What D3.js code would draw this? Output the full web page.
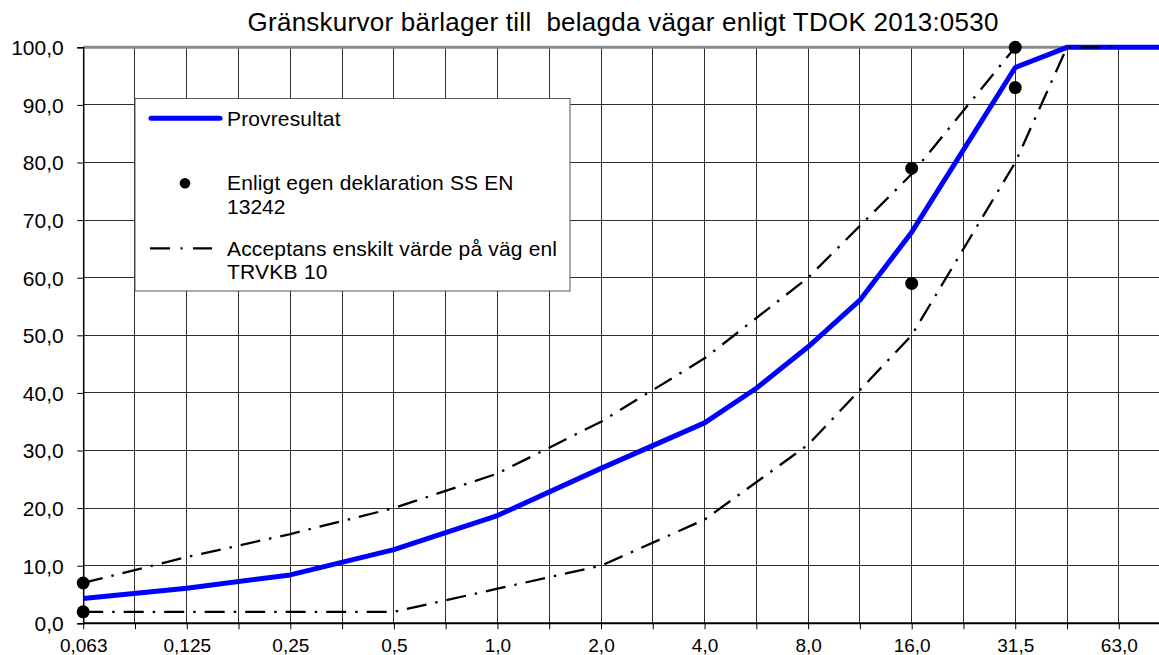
<!DOCTYPE html>
<html>
<head>
<meta charset="utf-8">
<script src="https://cdn.jsdelivr.net/npm/d3@7"></script>
<style>
  html, body { margin: 0; padding: 0; background: #fff; }
  svg { display: block; font-family: "Liberation Sans", Arial, sans-serif; }
</style>
</head>
<body>
<svg id="chart" width="1159" height="655"></svg>
<script>
// ---------- data ----------
const titleText = "Gränskurvor bärlager till  belagda vägar enligt TDOK 2013:0530";

// sieve sizes (mm), each one gridline step apart on the x axis
const sieveSizes = [0.063, 0.09, 0.125, 0.18, 0.25, 0.355, 0.5, 0.71, 1, 1.4, 2, 2.8, 4, 5.6, 8, 11.2, 16, 22.4, 31.5, 45, 63, 90];
const tickLabels = ["0,063", "0,125", "0,25", "0,5", "1,0", "2,0", "4,0", "8,0", "16,0", "31,5", "63,0"];
const yTicks = [0, 10, 20, 30, 40, 50, 60, 70, 80, 90, 100];

// Provresultat
const provSizes  = [0.063, 0.125, 0.25, 0.5, 1, 2, 4, 5.6, 8, 11.2, 16, 31.5, 45, 63, 90];
const provValues = [4.3, 6.1, 8.4, 12.8, 18.7, 26.9, 34.8, 40.8, 48.0, 56.1, 67.9, 96.5, 100, 100, 100];

// Acceptans enskilt värde (upper / lower limit)
const upperSizes  = [0.063, 0.125, 0.25, 0.5, 1, 2, 4, 8, 16, 31.5];
const upperValues = [7, 11.5, 15.5, 20, 26, 35, 46, 60, 78, 100];
const lowerSizes  = [0.063, 0.125, 0.25, 0.5, 1, 2, 4, 8, 16, 31.5, 45, 63];
const lowerValues = [2, 2, 2, 2, 6, 10, 18, 31, 50, 80, 100, 100];

// Enligt egen deklaration SS EN 13242
const declSizes  = [0.063, 0.063, 16, 16, 31.5, 31.5];
const declValues = [7, 2, 79, 59, 100, 93];

const legendLabels = [
  ["Provresultat"],
  ["Enligt egen deklaration SS EN", "13242"],
  ["Acceptans enskilt värde på väg enl", "TRVKB 10"]
];

// ---------- chart ----------
(function () {
const svg = d3.select("#chart");
const W = 1159, H = 655;
const pLeft = 83.2, pTop = 47.3, pBottom = 623.3, pRight = 1159;

const x = d3.scaleLinear().domain([0, 20]).range([pLeft, 1118.8]);
const y = d3.scaleLinear().domain([0, 100]).range([pBottom, pTop]);
const pos = s => x(sieveSizes.indexOf(s));

const locale = d3.formatLocale({decimal: ",", thousands: " ", grouping: [3], currency: ["", " kr"]});
const fmt = locale.format(".1f");

svg.append("rect").attr("width", W).attr("height", H).attr("fill", "#fff");

svg.append("defs").append("clipPath").attr("id", "plotclip")
  .append("rect").attr("x", pLeft).attr("y", pTop - 10).attr("width", pRight - pLeft).attr("height", pBottom - pTop + 20);

// grid
const grid = svg.append("g").attr("shape-rendering", "crispEdges").attr("stroke", "#2e2e2e").attr("stroke-width", 1);
grid.selectAll("line.h").data(yTicks).join("line").attr("class", "h")
  .attr("x1", pLeft).attr("x2", pRight).attr("y1", d => y(d)).attr("y2", d => y(d));
const vIdx = d3.range(0, sieveSizes.length).filter(i => x(i) <= pRight);
grid.selectAll("line.v").data(vIdx).join("line").attr("class", "v")
  .attr("x1", d => x(d)).attr("x2", d => x(d)).attr("y1", pTop).attr("y2", pBottom);

// top border
svg.append("line").attr("x1", pLeft).attr("x2", pRight).attr("y1", pTop).attr("y2", pTop)
  .attr("stroke", "#8c8c8c").attr("stroke-width", 3);

// axes
const yAxis = d3.axisLeft(y).tickValues(yTicks).tickSize(6).tickFormat(fmt);
const gy = svg.append("g").attr("transform", `translate(${pLeft},0)`).call(yAxis);
gy.select(".domain").attr("stroke", "#000").attr("stroke-width", 1.5);
gy.selectAll(".tick line").attr("stroke", "#000");
gy.selectAll(".tick text").attr("font-size", 21).attr("font-family", "Liberation Sans, Arial, sans-serif")
  .attr("fill", "#000").attr("x", -19.5).attr("dy", "0.35em");

const xAxis = d3.axisBottom(x).tickValues(vIdx).tickSize(6)
  .tickFormat(i => (i % 2 === 0 && tickLabels[i / 2]) ? tickLabels[i / 2] : "");
const gx = svg.append("g").attr("transform", `translate(0,${pBottom})`).call(xAxis);
gx.select(".domain").attr("stroke", "#000").attr("stroke-width", 2).attr("d", `M${pLeft},0H${pRight}`);
gx.selectAll(".tick line").attr("stroke", "#000");
gx.selectAll(".tick text").attr("font-size", 19).attr("font-family", "Liberation Sans, Arial, sans-serif")
  .attr("fill", "#000").attr("y", 28.5).attr("dy", 0);

// title
svg.append("text").attr("x", 247.5).attr("y", 31).attr("font-size", 26)
  .attr("textLength", 751).attr("lengthAdjust", "spacing")
  .style("white-space", "pre").attr("fill", "#000").text(titleText);

// lines
const plot = svg.append("g").attr("clip-path", "url(#plotclip)");
const line = d3.line().x(d => pos(d[0])).y(d => y(d[1]));

plot.append("path").datum(d3.zip(provSizes, provValues))
  .attr("d", line).attr("fill", "none").attr("stroke", "#0000ff").attr("stroke-width", 5)
  .attr("stroke-linejoin", "round");

const dash = "20,9,2.5,9";
[[upperSizes, upperValues], [lowerSizes, lowerValues]].forEach(([s, v]) => {
  plot.append("path").datum(d3.zip(s, v))
    .attr("d", line).attr("fill", "none").attr("stroke", "#000").attr("stroke-width", 2.3)
    .attr("stroke-dasharray", dash);
});

svg.append("g").selectAll("circle").data(d3.zip(declSizes, declValues)).join("circle")
  .attr("cx", d => pos(d[0])).attr("cy", d => y(d[1])).attr("r", 6.5).attr("fill", "#000");

// legend
const lg = svg.append("g");
lg.append("rect").attr("x", 135).attr("y", 98.5).attr("width", 435).attr("height", 192.5)
  .attr("fill", "#fff").attr("stroke", "#555").attr("stroke-width", 1);
lg.append("line").attr("x1", 151).attr("x2", 220).attr("y1", 118.3).attr("y2", 118.3)
  .attr("stroke", "#0000ff").attr("stroke-width", 5).attr("stroke-linecap", "round");
lg.append("circle").attr("cx", 185).attr("cy", 183.3).attr("r", 5.3).attr("fill", "#000");
lg.append("line").attr("x1", 150).attr("x2", 212).attr("y1", 248.3).attr("y2", 248.3)
  .attr("stroke", "#000").attr("stroke-width", 2.3).attr("stroke-dasharray", "20,10.5,2,10.5");

const legendTextPos = [[125.7], [190, 214.3], [255.7, 279]];
const legendWidths = [[113.5], [286.5, 58.5], [330, 100.5]];
legendLabels.forEach((lines, i) => {
  lines.forEach((t, j) => {
    lg.append("text").attr("x", 227).attr("y", legendTextPos[i][j]).attr("font-size", 21)
      .attr("textLength", legendWidths[i][j]).attr("lengthAdjust", "spacing")
      .attr("fill", "#000").text(t);
  });
});
})();
</script>
</body>
</html>
